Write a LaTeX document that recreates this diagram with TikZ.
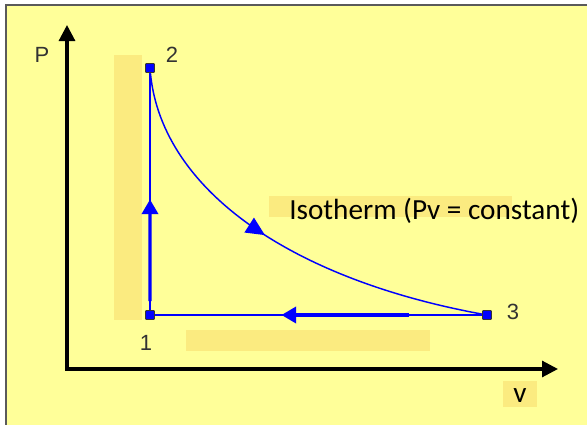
\documentclass[tikz,border=0pt]{standalone}
\usepackage{fontspec}
\newfontfamily\arialfont{Liberation Sans}
\newfontfamily\calibrifont{Carlito}
\usepackage{tikz}
\usetikzlibrary{arrows.meta,positioning,calc,decorations.markings}
\definecolor{clPaper}{HTML}{FFFF99}
\definecolor{clMark}{HTML}{FBEB80}
\definecolor{clFrame}{HTML}{5A5A5A}
\definecolor{clCycle}{HTML}{0000FF}
\definecolor{clLabel}{HTML}{333333}
\tikzset{
  statept/.style={rectangle, rounded corners=0.8pt, draw=black!80, fill=clCycle,
                  line width=0.6pt, inner sep=0pt, minimum size=6.8pt},
  ptlabel/.style={font=\arialfont\fontsize{16.5}{18}\selectfont, text=clLabel, inner sep=0pt},
  note/.style={font=\calibrifont\fontsize{21.9}{24}\selectfont, text=black, inner sep=0pt},
  marker/.style={fill=clMark, draw=none},
  axis/.style={line width=2.3pt, draw=black, {Triangle[length=12pt,width=12pt]}-{Triangle[length=12pt,width=12pt]}},
  flow/.style={line width=1.1pt, draw=clCycle},
  flowthick/.style={line width=2.6pt, draw=clCycle, -{Triangle[length=11pt,width=12pt]}},
}

\begin{document}
\begin{tikzpicture}[x=0.75pt, y=-0.75pt]
  \useasboundingbox (0,0) rectangle (587,425);
  % paper
  \fill[clPaper] (6,5) rectangle (590,428);
  \draw[clFrame, line width=1.6pt] (6,430) -- (6,5) -- (590,5);

  % highlight marks
  \fill[marker] (114,55) rectangle (142,320);
  \fill[marker] (186,330) rectangle (430,351);
  \fill[marker] (269,196) rectangle (512,217);
  \fill[marker] (503,381) rectangle (537,407);

  % axes
  \coordinate (o) at (67,369);
  \coordinate (ptip) at (67,25);
  \coordinate (vtip) at (558,369);
  \draw[axis] (ptip) -- (o) -- (vtip);
  \node[ptlabel] (pname) at (42,55) {P};
  \node[note, anchor=base] (vname) at (520,402) {v};

  % states
  \node[statept] (p1) at (150,315) {};
  \node[statept] (p2) at (150,68) {};
  \node[statept] (p3) at (487,315) {};
  \node[ptlabel] (l1) at ($(p1)+(-4,28)$) {1};
  \node[ptlabel] (l2) at ($(p2)+(22,-13)$) {2};
  \node[ptlabel] (l3) at ($(p3)+(26,-3)$) {3};

  % cycle
  \draw[flow] (p1.center) -- (p2.center);
  \draw[flowthick] ($(p1)!0.056!(p2)$) -- ($(p1)!0.468!(p2)$);
  \draw[flow, postaction={decorate},
        decoration={markings, mark=at position 0.47 with {\arrow{Triangle[length=14pt,width=13pt]}}}]
    (p2.center) .. controls (158,188) and (290,280) .. (p3.center);
  \draw[flow] (p3.center) -- (p1.center);
  \draw[flowthick] ($(p3)!0.23!(p1)$) -- ($(p3)!0.61!(p1)$);
  \node[statept] at (p1) {};
  \node[statept] at (p2) {};
  \node[statept] at (p3) {};

  \node[note, anchor=base west] (iso) at (289,219) {Isotherm (Pv = constant)};
\end{tikzpicture}
\end{document}
